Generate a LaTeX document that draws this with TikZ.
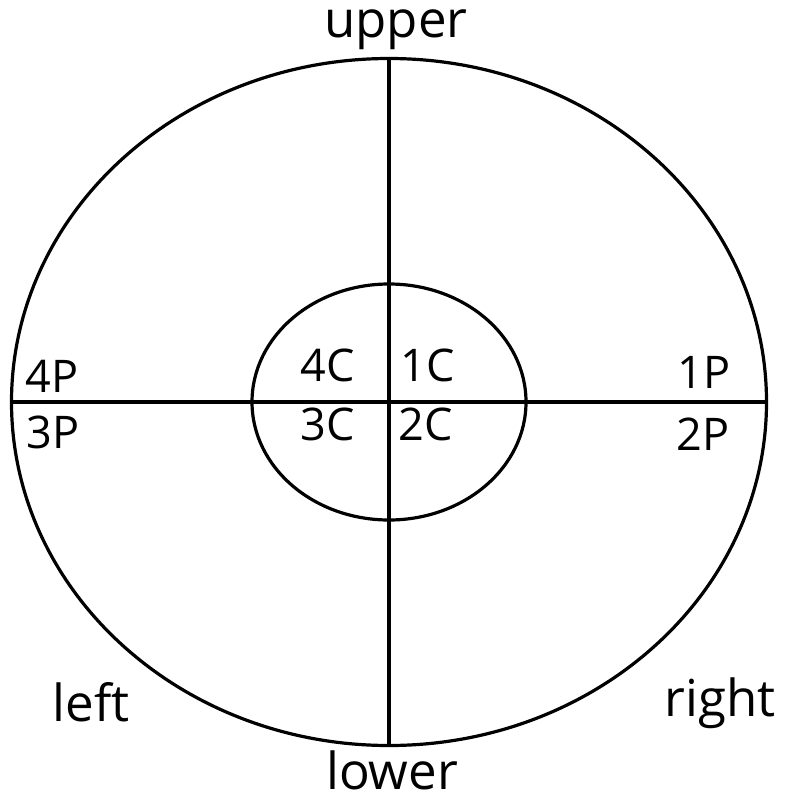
\documentclass[tikz,border=0pt]{standalone}
\usepackage{fontspec}
\setmainfont{Open Sans}
\usetikzlibrary{positioning}

\tikzset{
  ring/.style={line width=3.2pt, black},
  axis/.style={line width=3.2pt, black},
  side/.style={font=\fontsize{51}{51}\selectfont, anchor=base, inner sep=0pt},
  zone/.style={font=\fontsize{45}{45}\selectfont, anchor=base, inner sep=0pt}
}

\begin{document}
\begin{tikzpicture}[x=1pt, y=-1pt]
    \useasboundingbox (0,0) rectangle (784,802);
    % centre and end points of the two axes
    \coordinate (o) at (389,402);
    \coordinate (top) at (389,58);
    \coordinate (bot) at (389,745);
    \coordinate (lft) at (12,402);
    \coordinate (rgt) at (767,402);

    \draw[ring] (o) ellipse [x radius=377.5, y radius=343.5];
    \draw[ring] (o) ellipse [x radius=137, y radius=118];
    \draw[axis] (top) -- (bot);
    \draw[axis] (lft) -- (rgt);

    % side names
    \node[side] (upper) at (396,38) {upper};
    \node[side] (lower) at (392,789) {lower};
    \node[side] (left) at (91,721) {left};
    \node[side] (right) at (720,716) {right};

    % peripheral zones
    \node[zone] (p4) at (52,392) {4P};
    \node[zone] (p3) at (53,448) {3P};
    \node[zone] (p1) at (704,388) {1P};
    \node[zone] (p2) at (703,450) {2P};

    % central zones
    \node[zone] (c4) at (328,381) {4C};
    \node[zone] (c1) at (428,381) {1C};
    \node[zone] (c3) at (328,440) {3C};
    \node[zone] (c2) at (426,440) {2C};
\end{tikzpicture}
\end{document}
